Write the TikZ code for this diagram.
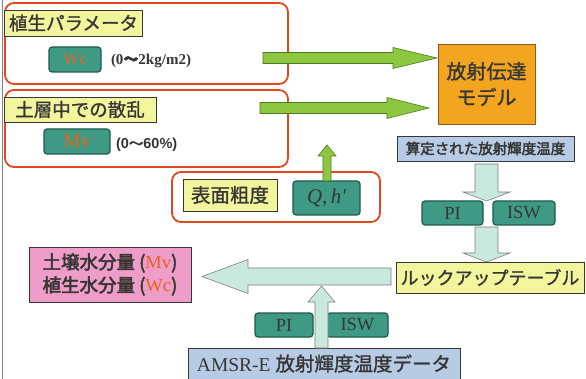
\documentclass[tikz,border=0pt]{standalone}
\usepackage{fontspec}
\setmainfont{Liberation Serif}
\newfontfamily\jp{Noto Sans CJK JP}[FakeBold=1.2]
\newfontfamily\jpb{Noto Sans CJK JP}[FakeBold=2.6]
\newfontfamily\tms{Liberation Serif}
\newfontfamily\lsb{Liberation Sans Bold}
\usetikzlibrary{calc}
\definecolor{redc}{HTML}{E4471F}
\definecolor{ylw}{HTML}{F3F59C}
\definecolor{tealc}{HTML}{3E9A84}
\definecolor{tealdk}{HTML}{1F5A4A}
\definecolor{grn}{HTML}{8DC63F}
\definecolor{grndk}{HTML}{4C7A22}
\definecolor{orng}{HTML}{F4A51F}
\definecolor{orngdk}{HTML}{8A5A1E}
\definecolor{bluec}{HTML}{B7CCE4}
\definecolor{ltealc}{HTML}{C9E9DF}
\definecolor{pinkc}{HTML}{EE9DC8}
\definecolor{txt}{HTML}{363636}
\definecolor{otxt}{HTML}{E4641E}
\tikzset{
  every node/.style={inner sep=0pt, outer sep=0pt, text=txt},
  redbox/.style={draw=redc, line width=1.8pt, rounded corners=9pt},
  ylabel/.style={fill=ylw, draw=txt, line width=0.6pt, font=\jp\fontsize{18.5}{20}\selectfont},
  tealbox/.style={fill=tealc, draw=tealdk, line width=1.2pt, rounded corners=3pt},
  tealtxt/.style={tealbox, font=\tms\fontsize{18.5}{19}\selectfont},
  garrow/.style={fill=grn, draw=grndk, line width=0.6pt},
  larrow/.style={fill=ltealc, draw=gray, line width=0.6pt},
  plainbox/.style={draw=txt, line width=0.6pt}
}
\begin{document}
\begin{tikzpicture}[x=1pt,y=-1pt]
\useasboundingbox (0,0) rectangle (586,379);
\fill[white] (0,0) rectangle (586,379);
\draw[gray, line width=0.8pt] (2.5,0) -- (2.5,379);

% group 1
\node[redbox, minimum width=283pt, minimum height=81pt] (g1) at (146.5,43.5) {};
\node[ylabel, minimum width=138pt, minimum height=26pt] (l1) at (73.5,23) {植生パラメータ};
\node[tealbox, minimum width=52pt, minimum height=25pt, font=\tms\fontsize{17}{18}\selectfont, text=otxt] (wc) at (75,59.5) {Wc};
\node[anchor=west, font=\tms\bfseries\fontsize{15}{16}\selectfont] (r1) at (111,61) {(0{\jpb～}2kg/m2)};

% group 2
\node[redbox, minimum width=283pt, minimum height=77pt] (g2) at (146.5,128.5) {};
\node[ylabel, minimum width=152pt, minimum height=25pt] (l2) at (80,109.5) {土層中での散乱};
\node[tealbox, minimum width=66pt, minimum height=25pt, font=\tms\fontsize{20}{21}\selectfont, text=otxt] (mv) at (77,141.5) {Mv};
\node[anchor=west, font=\lsb\fontsize{14.5}{16}\selectfont] (r2) at (116,145) {(0{\jpb～}60\%)};

% radiative transfer model
\node[fill=orng, draw=orngdk, line width=0.8pt, minimum width=97pt, minimum height=80pt, align=center, font=\jp\fontsize{20}{26}\selectfont] (rtm) at (486.5,84) {放射伝達\\モデル};

% green arrows
\coordinate (a1s) at (263,58);
\coordinate (a1e) at (437,58);
\draw[garrow] ($(a1s)+(0,-5.5)$) -- ($(a1e)+(-44,-5.5)$) -- ($(a1e)+(-44,-10.5)$) -- (a1e) -- ($(a1e)+(-44,10.5)$) -- ($(a1e)+(-44,5.5)$) -- ($(a1s)+(0,5.5)$) -- cycle;
\coordinate (a2s) at (260,108);
\coordinate (a2e) at (429,108);
\draw[garrow] ($(a2s)+(0,-5.5)$) -- ($(a2e)+(-42,-5.5)$) -- ($(a2e)+(-42,-10.5)$) -- (a2e) -- ($(a2e)+(-42,10.5)$) -- ($(a2e)+(-42,5.5)$) -- ($(a2s)+(0,5.5)$) -- cycle;

% calculated brightness temperature
\node[fill=bluec, plainbox, minimum width=177pt, minimum height=25pt, font=\jpb\fontsize{14.5}{16}\selectfont] (calc) at (485.5,148.5) {算定された放射輝度温度};

% group 3
\node[redbox, minimum width=208pt, minimum height=50pt] (g3) at (276,197) {};
\node[ylabel, minimum width=94pt, minimum height=32pt, font=\jp\fontsize{19.5}{21}\selectfont] (l3) at (230,195) {表面粗度};
\node[tealbox, minimum width=67pt, minimum height=34pt, font=\tms\itshape\fontsize{21}{22}\selectfont] (q) at (326.5,198) {Q,\,h'};
\coordinate (a3e) at (327,145);
\draw[garrow] ($(q.north -| a3e)+(-4,0)$) -- ($(a3e)+(-4,11)$) -- ($(a3e)+(-9,11)$) -- (a3e) -- ($(a3e)+(9,11)$) -- ($(a3e)+(4,11)$) -- ($(q.north -| a3e)+(4,0)$) -- cycle;

% right column
\node[tealtxt, minimum width=61pt, minimum height=24pt] (pi1) at (452.5,213) {PI};
\node[tealtxt, minimum width=62pt, minimum height=24pt] (isw1) at (524,213) {ISW};
\node[fill=ylw, plainbox, minimum width=188pt, minimum height=31pt, font=\jp\fontsize{18}{20}\selectfont] (lut) at (490,277.5) {ルックアップテーブル};

\coordinate (d1s) at (486.5,164);
\coordinate (d1e) at (486.5,201);
\draw[larrow] ($(d1s)+(-11.5,0)$) -- ($(d1e)+(-11.5,-9)$) -- ($(d1e)+(-23.5,-9)$) -- (d1e) -- ($(d1e)+(23.5,-9)$) -- ($(d1e)+(11.5,-9)$) -- ($(d1s)+(11.5,0)$) -- cycle;
\coordinate (d2s) at (486.5,227);
\coordinate (d2e) at (486.5,262);
\draw[larrow] ($(d2s)+(-11.5,0)$) -- ($(d2e)+(-11.5,-9)$) -- ($(d2e)+(-23.5,-9)$) -- (d2e) -- ($(d2e)+(23.5,-9)$) -- ($(d2e)+(11.5,-9)$) -- ($(d2s)+(11.5,0)$) -- cycle;

% result box
\node[fill=pinkc, plainbox, minimum width=162pt, minimum height=55pt, align=left, font=\jpb\fontsize{18.5}{23}\selectfont] (res) at (110,274.5) {土壌水分量 ({\tms\color{otxt}Mv})\\植生水分量 ({\tms\color{otxt}Wc})};

% big left arrow
\coordinate (bs) at (391,276.5);
\coordinate (be) at (202,276.5);
\draw[larrow] ($(bs)+(0,-8.5)$) -- ($(be)+(46,-8.5)$) -- ($(be)+(46,-17)$) -- (be) -- ($(be)+(46,17)$) -- ($(be)+(46,8.5)$) -- ($(bs)+(0,8.5)$) -- cycle;

% bottom
\node[fill=bluec, plainbox, minimum width=272pt, minimum height=31pt, font=\tms\fontsize{19.5}{21}\selectfont] (amsr) at (324,363.5) {AMSR-E {\jp 放射輝度温度データ}};
\node[tealtxt, minimum width=58pt, minimum height=24pt] (pi2) at (284,325) {PI};
\node[tealtxt, minimum width=61pt, minimum height=24pt] (isw2) at (357.5,325) {ISW};
\coordinate (ue) at (321.5,286);
\draw[larrow] ($(amsr.north -| ue)+(-6.5,0)$) -- ($(ue)+(-6.5,16)$) -- ($(ue)+(-13.5,16)$) -- (ue) -- ($(ue)+(13.5,16)$) -- ($(ue)+(6.5,16)$) -- ($(amsr.north -| ue)+(6.5,0)$) -- cycle;
\end{tikzpicture}
\end{document}
